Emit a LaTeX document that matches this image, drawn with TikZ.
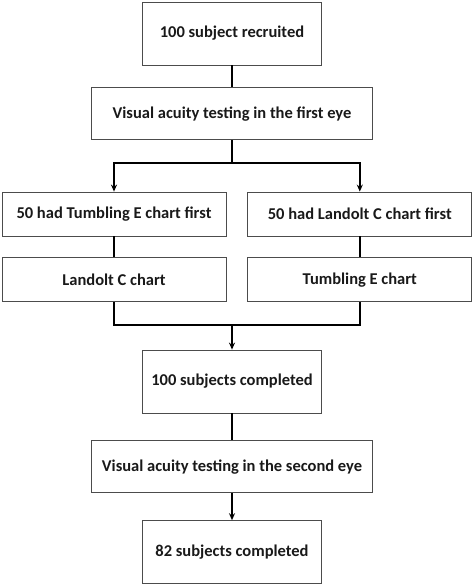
\documentclass[tikz,border=0pt]{standalone}
\usepackage{fontspec}
\setmainfont{Carlito}
\usepackage{tikz}
\usetikzlibrary{arrows.meta, positioning}

\begin{document}
\begin{tikzpicture}[>={Stealth[length=7pt,width=6pt]},
    box/.style={rectangle, draw=black!70, line width=0.8pt, text=black!90, align=center, inner sep=2pt, font=\fontsize{16.5}{19}\selectfont\bfseries},
    bigbox/.style={box, minimum width=179pt, minimum height=63pt},
    widebox/.style={box, minimum width=281pt, minimum height=52pt},
    halfbox/.style={box, minimum width=224pt, minimum height=44pt},
    line/.style={line width=1.6pt, black},
    arrow/.style={line, ->}
]
    \useasboundingbox (0,0) rectangle (474pt,-584pt);
    % Place nodes
    \node [bigbox] (recruit) at (232pt,-33.5pt) {100 subject recruited};
    \node [widebox, below=22pt of recruit] (firsteye) {Visual acuity testing in the first eye};
    \node [halfbox] (tumbfirst) at (114pt,-214pt) {50 had Tumbling E chart first};
    \node [halfbox, right=21pt of tumbfirst] (landfirst) {50 had Landolt C chart first};
    \node [halfbox, below=21pt of tumbfirst] (landolt) {Landolt C chart};
    \node [halfbox, below=21pt of landfirst] (tumbling) {Tumbling E chart};
    \node [bigbox] (completed) at (232pt,-381.5pt) {100 subjects completed};
    \node [widebox, below=27pt of completed] (secondeye) {Visual acuity testing in the second eye};
    \node [bigbox, below=27pt of secondeye] (final) {82 subjects completed};
    \coordinate (split) at (232pt,-163pt);
    \coordinate (join) at (232pt,-325pt);

    % Draw edges
    \draw [line] (recruit) -- (firsteye);
    \draw [line] (firsteye) -- (split);
    \draw [arrow] (split) -| (tumbfirst);
    \draw [arrow] (split) -| (landfirst);
    \draw [line] (tumbfirst) -- (landolt);
    \draw [line] (landfirst) -- (tumbling);
    \draw [line] (landolt) |- (join);
    \draw [line] (tumbling) |- (join);
    \draw [arrow] (join) -- (completed);
    \draw [line] (completed) -- (secondeye);
    \draw [arrow] (secondeye) -- (final);
\end{tikzpicture}
\end{document}
